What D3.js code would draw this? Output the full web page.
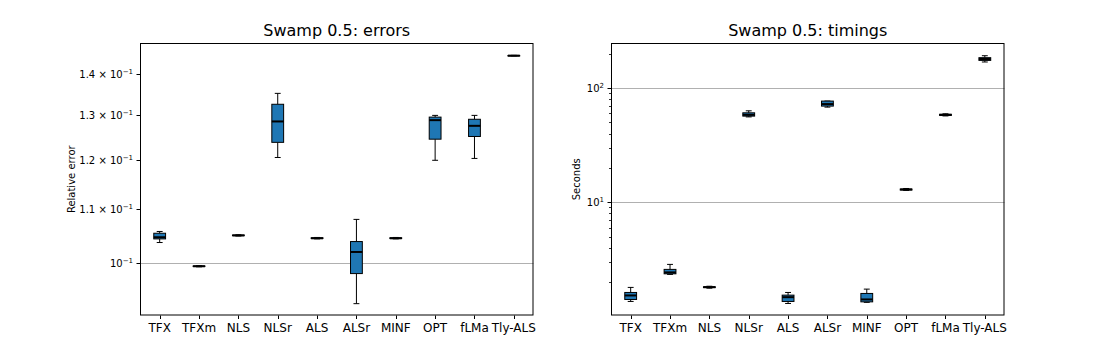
<!DOCTYPE html>
<html>
<head>
<meta charset="utf-8">
<script src="https://cdn.jsdelivr.net/npm/d3@7/dist/d3.min.js"></script>
<style>
  html, body { margin: 0; padding: 0; background: #fff; }
  svg { display: block; font-family: "DejaVu Sans", sans-serif; }
</style>
</head>
<body>
<svg id="chart" width="1116" height="360"></svg>
<script>
const categories = ["TFX", "TFXm", "NLS", "NLSr", "ALS", "ALSr", "MINF", "OPT", "fLMa", "Tly-ALS"];

// [whisker low, q1, median, q3, whisker high]
const errorStats = [
  [0.10364, 0.10431, 0.10462, 0.10537, 0.1057],
  [0.09925, 0.0993, 0.09935, 0.0994, 0.09945],
  [0.10485, 0.10492, 0.10496, 0.10503, 0.10508],
  [0.1206, 0.1239, 0.1286, 0.1326, 0.1352],
  [0.10432, 0.10438, 0.10443, 0.10452, 0.10458],
  [0.09294, 0.09806, 0.10191, 0.10382, 0.1080],
  [0.10432, 0.10438, 0.10443, 0.10452, 0.10458],
  [0.1200, 0.1246, 0.1289, 0.1296, 0.1300],
  [0.1204, 0.1252, 0.1276, 0.1291, 0.1300],
  [0.14455, 0.14458, 0.1446, 0.14465, 0.14468]
];

const timingStats = [
  [1.354, 1.409, 1.528, 1.623, 1.797],
  [2.336, 2.364, 2.432, 2.584, 2.858],
  [1.77, 1.79, 1.807, 1.82, 1.84],
  [55.9, 56.8, 58.3, 60.7, 63.2],
  [1.300, 1.354, 1.476, 1.538, 1.623],
  [68.1, 69.5, 72.4, 76.9, 76.9],
  [1.33, 1.343, 1.41, 1.591, 1.736],
  [12.7, 12.8, 12.95, 13.05, 13.2],
  [57.0, 57.6, 58.3, 58.9, 59.5],
  [169.1, 174.6, 179.7, 184.5, 191.9]
];

const errorTicks = [0.1, 0.11, 0.12, 0.13, 0.14];
const errorTickLabels = [["10", "\u22121"], ["1.1 \u00d7 10", "\u22121"], ["1.2 \u00d7 10", "\u22121"], ["1.3 \u00d7 10", "\u22121"], ["1.4 \u00d7 10", "\u22121"]];
const errorGrid = [0.1];
const errorDomain = [0.0910, 0.1479];

const timingMajor = [10, 100];
const timingMajorLabels = [["10", "1"], ["10", "2"]];
const timingMinor = [2, 3, 4, 5, 6, 7, 8, 9, 20, 30, 40, 50, 60, 70, 80, 90, 200];
const timingDomain = [1.02, 248];

const svg = d3.select("#chart");
const BLUE = "#1f77b4";

function panel(opts) {
  const { left, right, top, bottom, stats, domain, title, ylabel } = opts;
  const g = svg.append("g");
  const x = d3.scaleLinear().domain([0.5, 10.5]).range([left, right]);
  const y = d3.scaleLog().domain(domain).range([bottom, top]);

  // grid
  g.selectAll(".grid").data(opts.grid).enter().append("line")
    .attr("x1", left).attr("x2", right)
    .attr("y1", d => Math.round(y(d)) + 0.5).attr("y2", d => Math.round(y(d)) + 0.5)
    .attr("stroke", "#b0b0b0").attr("stroke-width", 1);

  // boxes
  const bw = (x(1.15) - x(0.85));
  const cw = (x(1.075) - x(0.925));
  const boxes = g.selectAll(".box").data(stats).enter().append("g");
  boxes.each(function(s, i) {
    const b = d3.select(this);
    const cx = x(i + 1);
    const [wl, q1, med, q3, wh] = s;
    b.append("line").attr("x1", cx).attr("x2", cx).attr("y1", y(wl)).attr("y2", y(q1))
      .attr("stroke", "#000").attr("stroke-width", 1);
    b.append("line").attr("x1", cx).attr("x2", cx).attr("y1", y(q3)).attr("y2", y(wh))
      .attr("stroke", "#000").attr("stroke-width", 1);
    b.append("line").attr("x1", cx - cw / 2).attr("x2", cx + cw / 2).attr("y1", y(wl)).attr("y2", y(wl))
      .attr("stroke", "#000").attr("stroke-width", 1);
    b.append("line").attr("x1", cx - cw / 2).attr("x2", cx + cw / 2).attr("y1", y(wh)).attr("y2", y(wh))
      .attr("stroke", "#000").attr("stroke-width", 1);
    b.append("rect").attr("x", cx - bw / 2).attr("width", bw)
      .attr("y", y(q3)).attr("height", Math.max(0.5, y(q1) - y(q3)))
      .attr("fill", BLUE).attr("stroke", "#000").attr("stroke-width", 1);
    b.append("line").attr("x1", cx - bw / 2).attr("x2", cx + bw / 2).attr("y1", y(med)).attr("y2", y(med))
      .attr("stroke", "#000").attr("stroke-width", 2);
  });

  // frame
  g.append("rect").attr("x", left + 0.5).attr("y", top + 0.5)
    .attr("width", right - left - 1).attr("height", bottom - top - 1)
    .attr("fill", "none").attr("stroke", "#000").attr("stroke-width", 1);

  // x ticks
  categories.forEach((c, i) => {
    const cx = Math.round(x(i + 1)) + 0.5;
    g.append("line").attr("x1", cx).attr("x2", cx).attr("y1", bottom).attr("y2", bottom + 3.5)
      .attr("stroke", "#000").attr("stroke-width", 1);
    g.append("text").attr("x", x(i + 1)).attr("y", bottom + 16.5)
      .attr("text-anchor", "middle").attr("font-size", 12).attr("fill", "#000").text(c);
  });

  // y ticks
  opts.yTicks.forEach((t, i) => {
    const yy = Math.round(y(t)) + 0.5;
    g.append("line").attr("x1", left - 3.5).attr("x2", left).attr("y1", yy).attr("y2", yy)
      .attr("stroke", "#000").attr("stroke-width", 1);
    const lab = opts.yLabels[i];
    const tx = g.append("text").attr("x", left - 7).attr("y", y(t) + 4)
      .attr("text-anchor", "end").attr("font-size", 10).attr("fill", "#000");
    tx.append("tspan").text(lab[0]);
    tx.append("tspan").attr("dy", -4).attr("font-size", 7).text(lab[1]);
  });
  (opts.minor || []).forEach(t => {
    const yy = Math.round(y(t)) + 0.5;
    g.append("line").attr("x1", left - 2).attr("x2", left).attr("y1", yy).attr("y2", yy)
      .attr("stroke", "#000").attr("stroke-width", 0.8);
  });

  // title
  g.append("text").attr("x", (left + right) / 2).attr("y", top - 7.5)
    .attr("text-anchor", "middle").attr("font-size", 16).attr("fill", "#000").text(title);
  // y label
  g.append("text").attr("transform", `translate(${opts.ylabelX},${(top + bottom) / 2}) rotate(-90)`)
    .attr("text-anchor", "middle").attr("font-size", 10).attr("fill", "#000").text(ylabel);
}

panel({
  left: 140, right: 533.5, top: 43, bottom: 315.5,
  stats: errorStats, domain: errorDomain, grid: errorGrid,
  yTicks: errorTicks, yLabels: errorTickLabels,
  title: "Swamp 0.5: errors", ylabel: "Relative error", ylabelX: 74.5
});

panel({
  left: 611, right: 1004.5, top: 43, bottom: 315.5,
  stats: timingStats, domain: timingDomain, grid: timingMajor,
  yTicks: timingMajor, yLabels: timingMajorLabels, minor: timingMinor,
  title: "Swamp 0.5: timings", ylabel: "Seconds", ylabelX: 579.5
});
</script>
</body>
</html>
